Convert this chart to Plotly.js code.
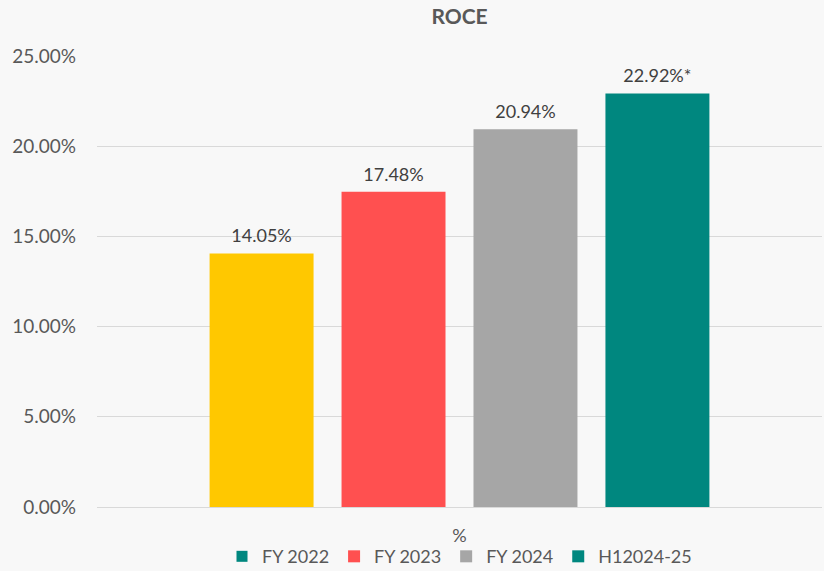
<!DOCTYPE html>
<html><head><meta charset="utf-8">
<script src="https://cdn.plot.ly/plotly-3.0.1.min.js"></script>
<style>html,body{margin:0;padding:0;background:#f8f8f8;}</style>
</head><body><div id="chart" style="width:824px;height:571px;"></div>
<script>
const category = ['%'];
const seriesNames = ['FY 2022', 'FY 2023', 'FY 2024', 'H12024-25'];
const values = [14.05, 17.48, 20.94, 22.92];
const labels = ['14.05%', '17.48%', '20.94%', '22.92%*'];
const barColors = ['#FFC800', '#FF5050', '#A6A6A6', '#00877F'];
const legendColors = ['#00877F', '#FF5050', '#A6A6A6', '#00877F'];
const yTicks = [0, 5, 10, 15, 20, 25];

const font = 'Lato, "Open Sans", sans-serif';
const data = [];
seriesNames.forEach((name, i) => {
  const bar = {
    type: 'bar', name: name, x: category, y: [values[i]],
    marker: {color: barColors[i]}, hoverinfo: 'name+y'
  };
  if (barColors[i] !== legendColors[i]) {
    bar.showlegend = false;
    data.push(bar);
    // legend-only entry on hidden axes so it does not join any grouping
    data.push({type: 'scatter', mode: 'markers', name: name, x: category, y: [null],
      xaxis: 'x2', yaxis: 'y2',
      marker: {symbol: 'square', color: legendColors[i], size: 11}, hoverinfo: 'skip'});
  } else {
    bar.showlegend = true;
    data.push(bar);
  }
});
// value labels, grouped like the bars
seriesNames.forEach((name, i) => {
  data.push({type: 'scatter', mode: 'markers+text', name: name + ' label', showlegend: false,
    x: category, y: [values[i]], text: [labels[i]], textposition: 'top center',
    marker: {size: 9, opacity: 0}, cliponaxis: false, hoverinfo: 'skip',
    textfont: {family: font, size: 18, color: '#404040'}});
});

const layout = {
  width: 824, height: 571,
  paper_bgcolor: '#f8f8f8', plot_bgcolor: '#f8f8f8',
  margin: {l: 97, r: 2, t: 56, b: 64, autoexpand: false},
  font: {family: font, color: '#595959', size: 18},
  title: {text: '<b>ROCE</b>', x: 0.5, xref: 'paper', y: 0.970, yref: 'container', yanchor: 'middle',
          font: {family: font, size: 21, color: '#595959'}},
  barmode: 'group', bargap: 0.272, bargroupgap: 0.212,
  scattermode: 'group', scattergap: 0.272,
  xaxis: {type: 'category', showgrid: false, showline: false, ticks: '', ticklabelstandoff: 16,
          tickfont: {size: 18, color: '#595959'}, fixedrange: true},
  yaxis: {range: [0, 25], tickvals: yTicks, ticktext: yTicks.map(v => v.toFixed(2) + '%'),
          gridcolor: '#d9d9d9', gridwidth: 1, zeroline: true, zerolinecolor: '#d9d9d9',
          showline: false, ticks: '', ticklabelstandoff: 20,
          tickfont: {size: 19, color: '#595959'}},
  xaxis2: {visible: false, overlaying: 'x', type: 'category'},
  yaxis2: {visible: false, overlaying: 'y', range: [0, 1]},
  legend: {orientation: 'h', x: 0.5, xanchor: 'center', y: -0.069, yanchor: 'top',
           font: {size: 18, color: '#595959'}, bgcolor: 'rgba(0,0,0,0)'},
  showlegend: true
};
Plotly.newPlot('chart', data, layout, {displayModeBar: false, staticPlot: true});
</script></body></html>
